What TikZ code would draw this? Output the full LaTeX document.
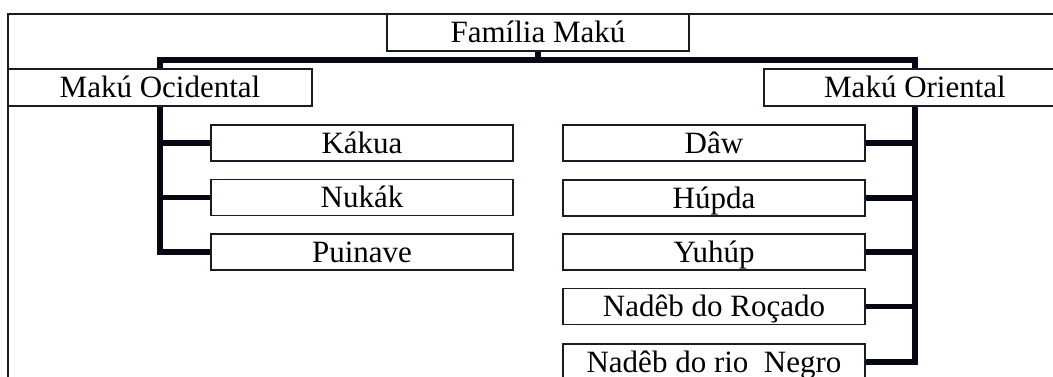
\documentclass[tikz,border=0pt]{standalone}
\usepackage{fontspec}
\setmainfont{Liberation Serif}
\usetikzlibrary{backgrounds}
\definecolor{boxcol}{RGB}{25,28,40}
\definecolor{conncol}{RGB}{5,8,20}
\begin{document}
\begin{tikzpicture}[x=1pt,y=-1pt,
  box/.style={draw=boxcol, line width=1.8pt, fill=white, inner sep=0pt,
    minimum width=302pt, minimum height=36pt, text height=20pt, text depth=0pt,
    font=\fontsize{31}{37}\selectfont},
  conn/.style={draw=conncol, line width=5.5pt, line join=miter}]
\useasboundingbox (0,0) rectangle (1053,376);
\clip (0,0) rectangle (1053,376);
\draw[boxcol, line width=1.8pt] (8,400) |- (1070,14);
\node[box, minimum height=37pt] (family) at (538,32.5) {Família Makú};
\node[box, minimum width=304pt, minimum height=37pt] (ocid) at (160,87.5) {Makú Ocidental};
\node[box, minimum height=37pt] (orient) at (915,87.5) {Makú Oriental};
\node[box] (kakua) at (362,143) {Kákua};
\node[box] (nukak) at (362,197.5) {Nukák};
\node[box] (puinave) at (362,252) {Puinave};
\node[box] (daw) at (714,143) {Dâw};
\node[box] (hupda) at (714,198) {Húpda};
\node[box] (yuhup) at (714,252) {Yuhúp};
\node[box] (rocado) at (714,306.5) {Nadêb do Roçado};
\node[box] (negro) at (714,362) {Nadêb do rio\ \ Negro};
\coordinate (jl) at (160,60);
\coordinate (jr) at (915,60);
\begin{scope}[on background layer]
\draw[conn] (puinave.west) -| (jl) -- (jr) |- (negro.east);
\draw[conn] (family.south) -- (family.south |- jl);
\draw[conn] (kakua.west) -- (kakua.west -| jl);
\draw[conn] (nukak.west) -- (nukak.west -| jl);
\draw[conn] (daw.east) -- (daw.east -| jr);
\draw[conn] (hupda.east) -- (hupda.east -| jr);
\draw[conn] (yuhup.east) -- (yuhup.east -| jr);
\draw[conn] (rocado.east) -- (rocado.east -| jr);
\end{scope}
\end{tikzpicture}
\end{document}
